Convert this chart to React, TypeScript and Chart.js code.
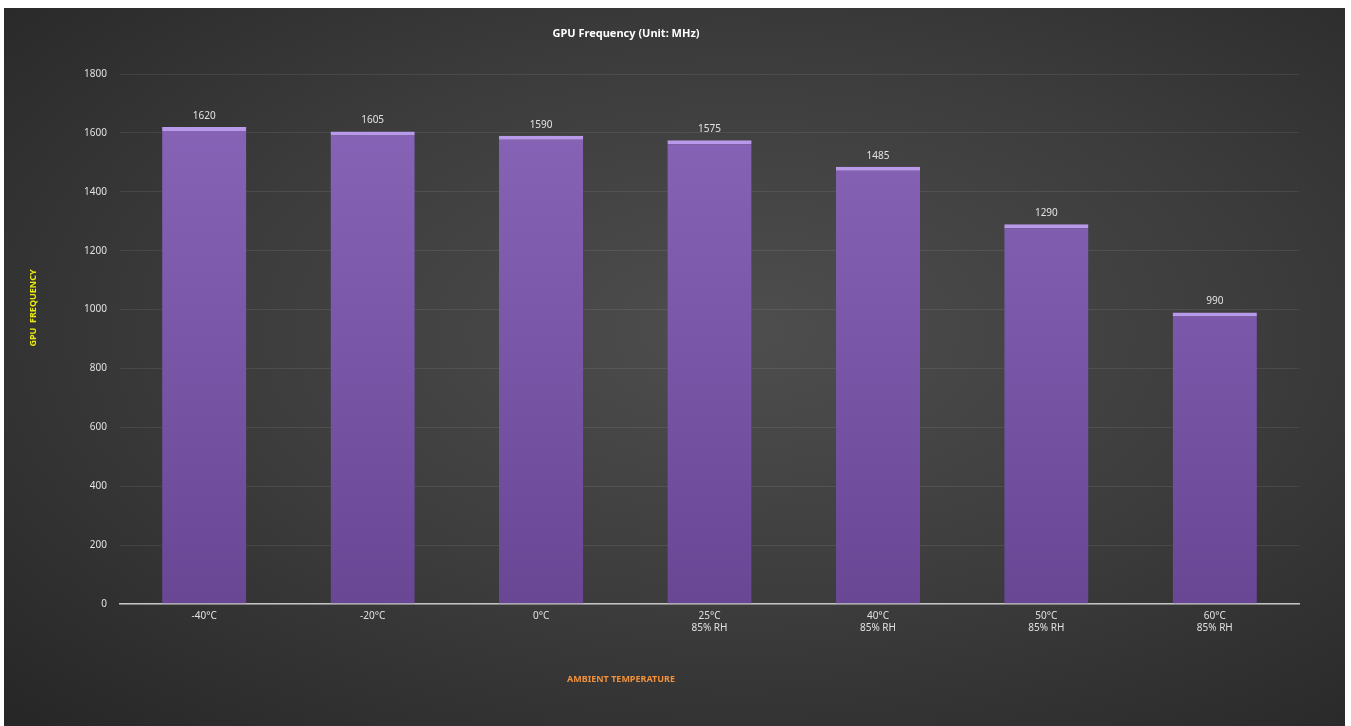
import React, { useEffect, useRef } from "react";
import { Chart, registerables } from "chart.js";

Chart.register(...registerables);

const categories: string[][] = [
  ["-40°C"],
  ["-20°C"],
  ["0°C"],
  ["25°C", "85% RH"],
  ["40°C", "85% RH"],
  ["50°C", "85% RH"],
  ["60°C", "85% RH"],
];
const frequencies: number[] = [1620, 1605, 1590, 1575, 1485, 1290, 990];
const yTicks = { min: 0, max: 1800, step: 200 };
const chartTitle = "GPU Frequency (Unit: MHz)";
const yTitle = "GPU  FREQUENCY";
const xTitle = "AMBIENT TEMPERATURE";

const FONT = "'Noto Sans', 'DejaVu Sans', sans-serif";

const overlayPlugin = {
  id: "overlayText",
  afterDatasetsDraw(chart: any) {
    const ctx = chart.ctx;
    const meta = chart.getDatasetMeta(0);
    ctx.save();
    // value labels
    ctx.fillStyle = "#e2e2e2";
    ctx.font = `10px ${FONT}`;
    ctx.textAlign = "center";
    ctx.textBaseline = "bottom";
    meta.data.forEach((bar: any, i: number) => {
      ctx.fillText(String(frequencies[i]), bar.x, bar.y - 6);
    });
    // chart title
    ctx.fillStyle = "#ffffff";
    ctx.font = `bold 11px ${FONT}`;
    ctx.textBaseline = "middle";
    ctx.fillText(chartTitle, 622, 26);
    // x title
    ctx.fillStyle = "#f0913c";
    ctx.font = `bold 9px ${FONT}`;
    ctx.fillText(xTitle, 617, 671);
    // y title
    ctx.translate(29, 300);
    ctx.rotate(-Math.PI / 2);
    ctx.fillStyle = "#e9e910";
    ctx.font = `bold 9px ${FONT}`;
    ctx.fillText(yTitle, 0, 0);
    ctx.restore();
  },
};

export default function App() {
  const ref = useRef<HTMLCanvasElement | null>(null);

  useEffect(() => {
    if (!ref.current) return;
    const chart = new Chart(ref.current, {
      type: "bar",
      data: {
        labels: categories,
        datasets: [
          {
            data: frequencies,
            backgroundColor: (c: any) => {
              const area = c.chart.chartArea;
              if (!area) return "#7a56a8";
              const g = c.chart.ctx.createLinearGradient(0, area.top, 0, area.bottom);
              g.addColorStop(0, "#8a66ba");
              g.addColorStop(1, "#694795");
              return g;
            },
            borderColor: "#b899ea",
            borderWidth: { top: 4, left: 0, right: 0, bottom: 0 },
            borderSkipped: "bottom",
            barPercentage: 0.5,
            categoryPercentage: 1,
          },
        ],
      },
      options: {
        animation: false,
        responsive: false,
        maintainAspectRatio: false,
        layout: { padding: { top: 66, right: 46, bottom: 0, left: 0 } },
        plugins: {
          legend: { display: false },
          title: { display: false },
          tooltip: { enabled: false },
        },
        scales: {
          x: {
            grid: { display: false, drawTicks: false },
            border: { display: true, color: "#c4c4c4", width: 1.5 },
            ticks: {
              color: "#e0e0e0",
              font: { family: FONT, size: 10 },
              padding: 6,
              maxRotation: 0,
              autoSkip: false,
            },
            afterFit: (s: any) => {
              s.height = 122;
            },
          },
          y: {
            min: yTicks.min,
            max: yTicks.max,
            grid: { color: "rgba(255,255,255,0.08)", drawTicks: false },
            border: { display: false },
            ticks: {
              stepSize: yTicks.step,
              color: "#e0e0e0",
              font: { family: FONT, size: 10 },
              padding: 13,
              callback: (v: any) => String(v),
            },
            afterFit: (s: any) => {
              s.width = 116;
            },
          },
        },
      },
      plugins: [overlayPlugin],
    });
    return () => chart.destroy();
  }, []);

  return (
    <div
      style={{
        position: "absolute",
        left: 4,
        top: 8,
        width: 1341,
        height: 718,
        background:
          "radial-gradient(ellipse farthest-corner at 55% 45%, #4e4e4e 0%, #3c3c3c 50%, #262626 100%)",
      }}
    >
      <canvas ref={ref} width={1341} height={718} style={{ display: "block" }} />
    </div>
  );
}
